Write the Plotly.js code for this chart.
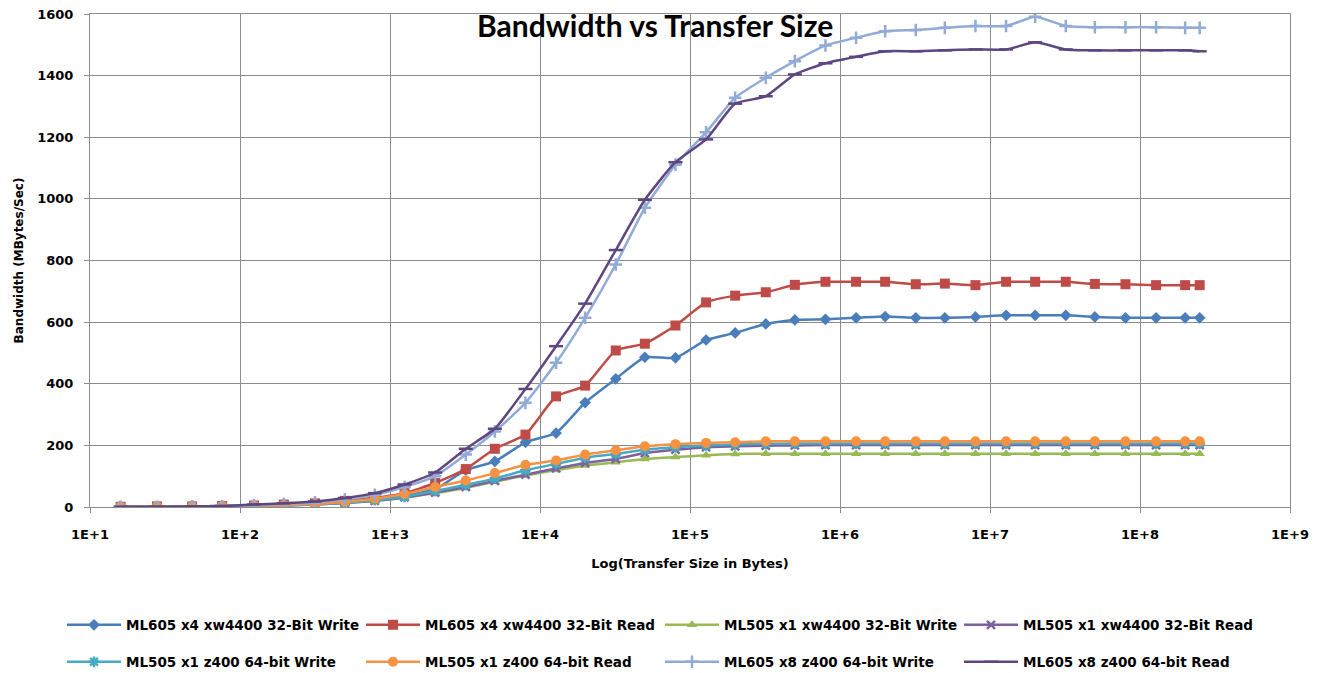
<!DOCTYPE html>
<html>
<head>
<meta charset="utf-8">
<script src="https://cdn.plot.ly/plotly-3.0.1.min.js"></script>
<style>html,body{margin:0;padding:0;background:#fff}#chart{width:1327px;height:673px}</style>
</head>
<body>
<div id="chart"></div>
<script>
// Transfer sizes (bytes)
const transferSize = [16,28,48,76,124,196,316,500,792,1250,2000,3200,5000,8000,12800,20000,32000,50000,80000,128000,200000,320000,500000,800000,1280000,2000000,3200000,5000000,8000000,12800000,20000000,32000000,50000000,80000000,128000000,200000000,250000000];

// Bandwidth (MBytes/Sec)
const ml605x4Write = [1,1,2,3,4,7,11,18,27,38,58,120,148,210,240,339,416,486,484,542,565,594,607,609,614,618,614,614,617,622,622,622,617,614,614,614,614];
const ml605x4Read = [1,2,2,3,5,8,12,20,30,45,78,123,189,235,359,394,508,530,589,664,686,697,721,731,731,731,723,725,720,731,731,731,724,723,720,720,720];
const ml505x1Write32 = [0,1,1,2,3,5,8,13,20,30,45,62,82,102,120,135,145,156,162,168,172,173,173,173,173,173,173,173,173,173,173,173,173,173,173,173,173];
const ml505x1Read32 = [0,1,1,2,3,5,8,13,20,31,47,65,85,105,125,143,156,175,186,194,197,199,200,201,201,201,201,201,201,201,201,201,201,201,201,201,201];
const ml505x1Write64 = [1,1,2,2,3,5,9,14,22,33,52,72,92,119,140,160,172,186,194,200,203,205,206,206,206,206,206,206,206,206,206,206,206,206,206,206,206];
const ml505x1Read64 = [1,2,2,3,4,6,10,17,27,42,65,86,110,137,151,170,184,197,204,208,210,213,213,213,213,213,213,213,213,213,213,213,213,213,213,213,213];
const ml605x8Write = [1,1,2,3,6,10,15,25,40,65,100,170,245,338,468,614,787,971,1111,1216,1328,1393,1447,1498,1523,1544,1548,1555,1561,1561,1591,1561,1557,1557,1557,1555,1555];
const ml605x8Read = [1,1,2,3,8,12,18,29,45,73,112,189,254,383,522,660,834,997,1119,1193,1309,1333,1404,1440,1461,1479,1479,1482,1485,1485,1508,1485,1482,1482,1482,1482,1479];

const seriesNames = [
  'ML605 x4 xw4400 32-Bit Write',
  'ML605 x4 xw4400 32-Bit Read',
  'ML505 x1 xw4400 32-Bit Write',
  'ML505 x1 xw4400 32-Bit Read',
  'ML505 x1 z400 64-bit Write',
  'ML505 x1 z400 64-bit Read',
  'ML605 x8 z400 64-bit Write',
  'ML605 x8 z400 64-bit Read'
];
const seriesValues = [ml605x4Write, ml605x4Read, ml505x1Write32, ml505x1Read32, ml505x1Write64, ml505x1Read64, ml605x8Write, ml605x8Read];

const tickVals = [1e1,1e2,1e3,1e4,1e5,1e6,1e7,1e8,1e9];
const tickText = ['1E+1','1E+2','1E+3','1E+4','1E+5','1E+6','1E+7','1E+8','1E+9'];

const FONT = 'DejaVu Sans';
const colors = ['#4A7EBB','#BE4B48','#98B954','#7D60A0','#46AAC5','#F69240','#91ABD6','#5E4781'];
const markers = [
  {symbol:'diamond', size:9},
  {symbol:'square', size:10},
  {symbol:'triangle-up', size:9},
  {symbol:'x-thin-open', size:8, line:true},
  {symbol:'asterisk-open', size:9, line:true},
  {symbol:'circle', size:10},
  {symbol:'cross-thin-open', size:9, line:true},
  {symbol:'line-ew-open', size:10, line:true}
];

const traces = seriesNames.map((name, i) => {
  const m = markers[i];
  const marker = {symbol: m.symbol, size: m.size, color: colors[i]};
  if (m.line) marker.line = {color: colors[i], width: 2.5};
  else marker.line = {width: 0};
  return {
    type: 'scatter', mode: 'lines+markers', name: name,
    x: transferSize, y: seriesValues[i],
    line: {color: colors[i], width: 2.5, shape: 'spline', smoothing: 0.5},
    marker: marker,
    legend: i < 4 ? 'legend' : 'legend2'
  };
});

const tickFont = {family: FONT, size: 13, color: '#000', weight: 'bold'};
const legendCommon = {
  orientation: 'h', xref: 'container', yref: 'container', xanchor: 'left', yanchor: 'middle',
  x: 62/1327, font: {family: FONT, size: 13.5, color: '#000', weight: 'bold'},
  entrywidth: 230, entrywidthmode: 'pixels', itemwidth: 54, bgcolor: 'rgba(0,0,0,0)',
  traceorder: 'normal', tracegroupgap: 0
};

const layout = {
  width: 1327, height: 673,
  paper_bgcolor: '#fff', plot_bgcolor: '#fff',
  margin: {l: 90, r: 37, t: 14, b: 166},
  title: {text: 'Bandwidth vs Transfer Size', font: {family: 'Lato', size: 30, weight: 'bold', color: '#000'},
    xref: 'paper', x: 0.471, xanchor: 'center', yref: 'container', y: 1 - 26/673, yanchor: 'middle'},
  xaxis: {
    type: 'log', range: [1, 9], tickvals: tickVals, ticktext: tickText,
    showgrid: true, gridcolor: '#8c8c8c', gridwidth: 1,
    showline: true, linecolor: '#8c8c8c', linewidth: 1, mirror: true,
    ticks: 'outside', ticklen: 5, tickcolor: '#8c8c8c',
    tickfont: tickFont, ticklabelstandoff: 10, zeroline: false,
    title: {text: 'Log(Transfer Size in Bytes)', font: tickFont, standoff: 18}
  },
  yaxis: {
    range: [0, 1600], dtick: 200, tick0: 0,
    showgrid: true, gridcolor: '#8c8c8c', gridwidth: 1,
    showline: true, linecolor: '#8c8c8c', linewidth: 1, mirror: true,
    ticks: 'outside', ticklen: 5, tickcolor: '#8c8c8c',
    tickfont: tickFont, ticklabelstandoff: 8, zeroline: false,
    title: {text: 'Bandwidth (MBytes/Sec)', font: {family: FONT, size: 12, color: '#000', weight: 'bold'}, standoff: 11}
  },
  legend: Object.assign({}, legendCommon, {y: 1 - 625/673}),
  legend2: Object.assign({}, legendCommon, {y: 1 - 662/673}),
  showlegend: true
};

Plotly.newPlot('chart', traces, layout, {displayModeBar: false, staticPlot: true});
</script>
</body>
</html>
